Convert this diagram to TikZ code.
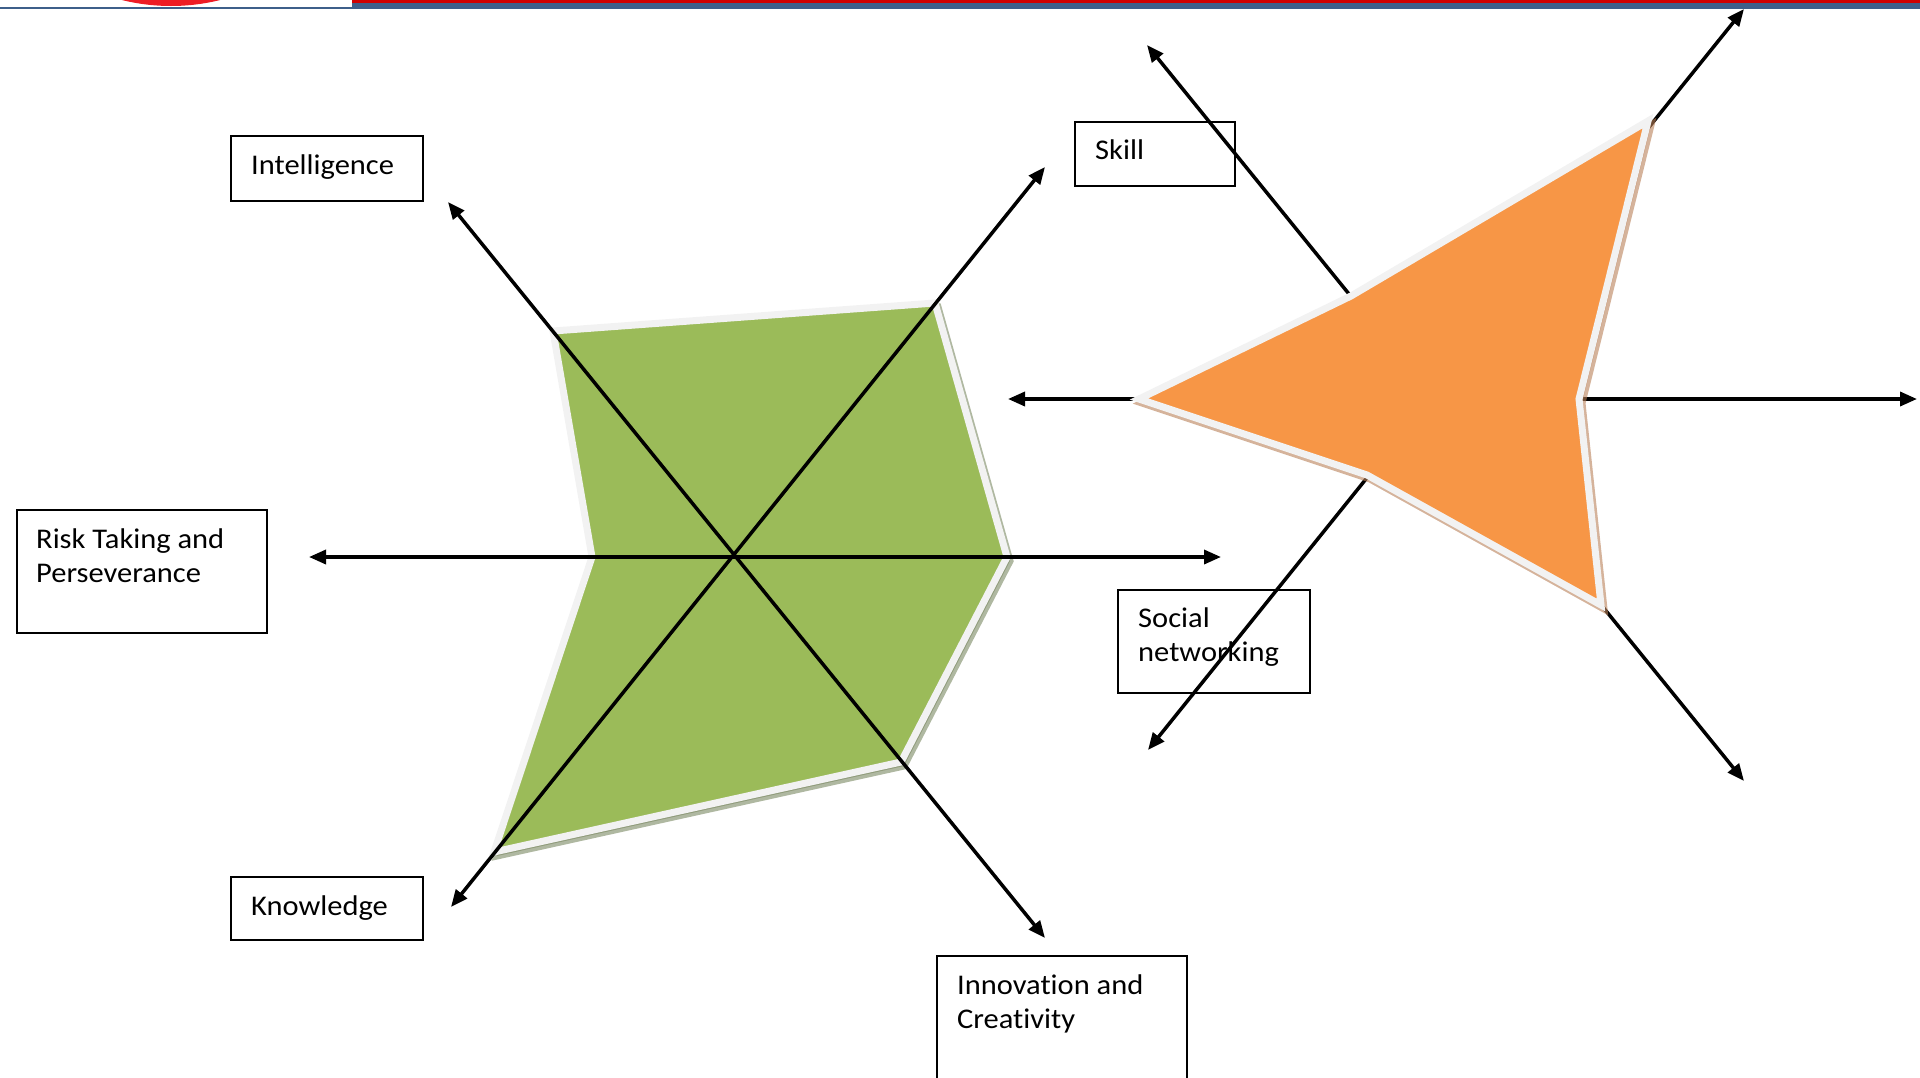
\documentclass[tikz,border=0pt]{standalone}
\usepackage{fontspec}
\setmainfont{Carlito}[Ligatures={NoCommon}, FakeStretch=1.07]
\usetikzlibrary{arrows.meta,calc}
\definecolor{chartgreen}{HTML}{9BBB59}
\definecolor{chartorange}{HTML}{F79646}
\definecolor{edgegrey}{HTML}{F2F2F2}
\definecolor{greenshadow}{HTML}{7A8862}
\definecolor{orangeshadow}{HTML}{B98058}
\definecolor{headblue}{HTML}{3E5F8A}
\definecolor{headred}{HTML}{D00000}
\definecolor{logored}{HTML}{EE1C25}
\begin{document}
\begin{tikzpicture}[x=1pt,y=-1pt,
  axis/.style={line width=3.5pt, {Triangle[length=17pt,width=14pt]}-{Triangle[length=17pt,width=14pt]}},
  labelbox/.style={draw, line width=2pt, anchor=north west, inner sep=0pt},
  labeltext/.style={anchor=base west, inner sep=0pt, font=\fontsize{28.5}{34}\selectfont},
  polyedge/.style={draw=edgegrey, line width=7pt, line join=miter},
  polyshadow/.style={line width=7pt, line join=miter, opacity=0.6, transform canvas={xshift=3pt,yshift=-4pt}},
]
\useasboundingbox (0,0) rectangle (1920,1077);
% header strip
\begin{scope}
  \clip (0,0) rectangle (1920,1077);
  \fill[logored] (171,-197) circle [radius=203pt];
  \fill[headred] (352,0) rectangle (1920,3.3);
  \fill[headblue] (352,3.3) rectangle (1920,8.5);
  \fill[headblue] (0,6.8) rectangle (352,8.5);
\end{scope}

% ---------- left chart ----------
\coordinate (c1) at (733,557);
\coordinate (la1) at (448,202);
\coordinate (la2) at (1045,938);
\coordinate (la3) at (1045,167);
\coordinate (la4) at (451,907);
\coordinate (la5) at (309,557);
\coordinate (la6) at (1221,557);
\coordinate (g1) at (553,331);
\coordinate (g2) at (935,303);
\coordinate (g3) at (1007,557);
\coordinate (g4) at (901,762);
\coordinate (g5) at (494,852);
\coordinate (g6) at (592,557);
\filldraw[polyshadow, fill=greenshadow, draw=greenshadow] (g1) -- (g2) -- (g3) -- (g4) -- (g5) -- (g6) -- cycle;
\filldraw[polyedge, fill=chartgreen] (g1) -- (g2) -- (g3) -- (g4) -- (g5) -- (g6) -- cycle;
\draw[axis] (la1) -- (la2);
\draw[axis] (la3) -- (la4);
\draw[axis] (la5) -- (la6);

% ---------- right chart ----------
\coordinate (c2) at (1432,399);
\coordinate (ra1) at (1147,45);
\coordinate (ra2) at (1744,781);
\coordinate (ra3) at (1744,9);
\coordinate (ra4) at (1148,750);
\coordinate (ra5) at (1008,399);
\coordinate (ra6) at (1917,399);
\draw[axis] (ra1) -- (ra2);
\draw[axis] (ra3) -- (ra4);
\draw[axis] (ra5) -- (ra6);
\coordinate (o1) at (1648,121);
\coordinate (o2) at (1351,296);
\coordinate (o3) at (1139,399);
\coordinate (o4) at (1367,475);
\coordinate (o5) at (1601,605);
\coordinate (o6) at (1579,399);
\filldraw[polyshadow, fill=orangeshadow, draw=orangeshadow] (o1) -- (o2) -- (o3) -- (o4) -- (o5) -- (o6) -- cycle;
\filldraw[polyedge, fill=chartorange] (o1) -- (o2) -- (o3) -- (o4) -- (o5) -- (o6) -- cycle;

% ---------- label boxes ----------
\node[labelbox, minimum width=192pt, minimum height=65pt] (bint) at (230,135) {};
\node[labeltext] (tint) at ([xshift=21pt,yshift=-39pt]bint.north west) {\parbox[t]{300pt}{Intelligence}};

\node[labelbox, minimum width=160pt, minimum height=64pt] (bskill) at (1074,121) {};
\node[labeltext] (tskill) at ([xshift=21pt,yshift=-38pt]bskill.north west) {\parbox[t]{300pt}{Skill}};

\node[labelbox, minimum width=250pt, minimum height=123pt] (brisk) at (16,509) {};
\node[labeltext] (trisk) at ([xshift=20pt,yshift=-39pt]brisk.north west) {\parbox[t]{300pt}{Risk Taking and\\Perseverance}};

\node[labelbox, minimum width=192pt, minimum height=103pt] (bsoc) at (1117,589) {};
\node[labeltext] (tsoc) at ([xshift=21pt,yshift=-38pt]bsoc.north west) {\parbox[t]{300pt}{Social\\networking}};

\node[labelbox, minimum width=192pt, minimum height=63pt] (bknow) at (230,876) {};
\node[labeltext] (tknow) at ([xshift=21pt,yshift=-39pt]bknow.north west) {\parbox[t]{300pt}{Knowledge}};

\node[labelbox, minimum width=250pt, minimum height=150pt] (binno) at (936,955) {};
\node[labeltext] (tinno) at ([xshift=21pt,yshift=-39pt]binno.north west) {\parbox[t]{300pt}{Innovation and\\Creativity}};
\end{tikzpicture}
\end{document}
